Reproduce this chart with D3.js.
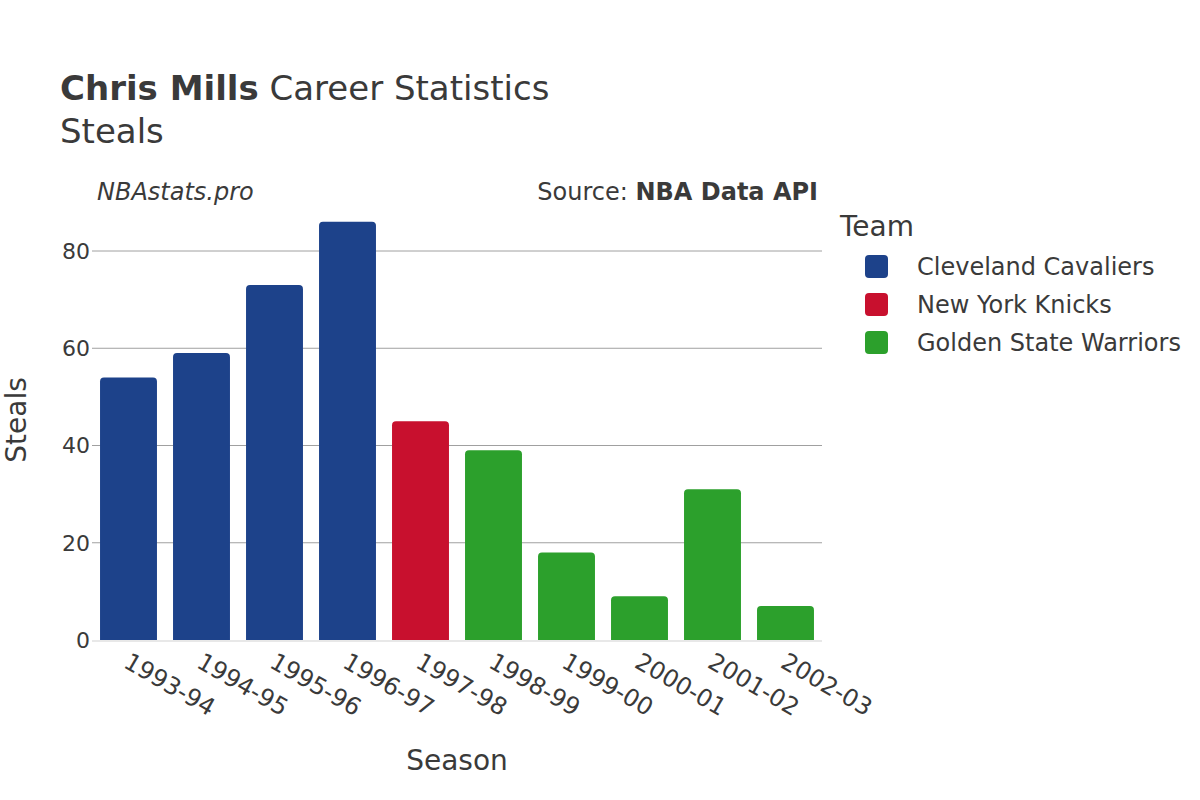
<!DOCTYPE html>
<html><head><meta charset="utf-8">
<script src="https://cdn.jsdelivr.net/npm/d3@7"></script>
<style>body{margin:0;background:#fff;} text{font-family:"DejaVu Sans",sans-serif;fill:#3a3a3a;}</style>
</head><body>
<svg id="c" width="1200" height="800"></svg>
<script>
const seasons = ["1993-94","1994-95","1995-96","1996-97","1997-98","1998-99","1999-00","2000-01","2001-02","2002-03"];
const steals = [54,59,73,86,45,39,18,9,31,7];
const teams = ["CLE","CLE","CLE","CLE","NYK","GSW","GSW","GSW","GSW","GSW"];
const teamCodes = ["CLE","NYK","GSW"];
const teamNames = ["Cleveland Cavaliers","New York Knicks","Golden State Warriors"];
const teamColors = ["#1d428a","#c8102e","#2ca02c"];
const yTicks = [0,20,40,60,80];

const svg = d3.select("#c");
const m = {left:92, right:822, top:210, bottom:640};
const x = d3.scaleBand().domain(seasons).range([m.left,m.right]).paddingInner(0.22).paddingOuter(0.11);
const y = d3.scaleLinear().domain([0,80]).range([m.bottom,251]);
const color = d3.scaleOrdinal().domain(teamCodes).range(teamColors);

// grid
svg.append("g").selectAll("line").data(yTicks.filter(d=>d>0)).join("line")
  .attr("x1",m.left).attr("x2",m.right).attr("y1",d=>y(d)).attr("y2",d=>y(d))
  .attr("stroke","#a0a0a0").attr("stroke-width",1);

// y labels
svg.append("g").selectAll("text").data(yTicks).join("text")
  .attr("x",m.left-2).attr("y",d=>y(d)).attr("dy","0.36em").attr("text-anchor","end")
  .style("font-size","22px").text(d=>d);

// bars with rounded top
const r = 4;
svg.append("g").selectAll("path").data(seasons).join("path")
  .attr("fill",(d,i)=>color(teams[i]))
  .attr("d",(d,i)=>{
    const x0 = x(d), w = x.bandwidth(), yt = y(steals[i]), yb = y(0);
    return `M${x0},${yb}V${yt+r}Q${x0},${yt} ${x0+r},${yt}H${x0+w-r}Q${x0+w},${yt} ${x0+w},${yt+r}V${yb}Z`;
  });

// zero line
svg.append("line").attr("x1",m.left).attr("x2",m.right).attr("y1",y(0)+1).attr("y2",y(0)+1)
  .attr("stroke","#e8e8e8").attr("stroke-width",2);

// x labels
svg.append("g").selectAll("text").data(seasons).join("text")
  .attr("transform",d=>`translate(${x(d)+x.bandwidth()/2-2},${659}) rotate(30)`)
  .attr("text-anchor","start").attr("dy","0.36em")
  .style("font-size","24px").text(d=>d);

// axis titles
svg.append("text").attr("x",457).attr("y",770).attr("text-anchor","middle").style("font-size","28px").text("Season");
svg.append("text").attr("transform","translate(26,420) rotate(-90)").attr("text-anchor","middle").style("font-size","28px").text("Steals");

// titles
const t = svg.append("text").attr("x",60).attr("y",100).style("font-size","34px");
t.append("tspan").style("font-weight","bold").text("Chris Mills");
t.append("tspan").text(" Career Statistics");
svg.append("text").attr("x",60).attr("y",143).style("font-size","34px").text("Steals");
svg.append("text").attr("x",97).attr("y",200).style("font-size","24px").style("font-style","italic").text("NBAstats.pro");
const s = svg.append("text").attr("x",818).attr("y",200).attr("text-anchor","end").style("font-size","24px");
s.append("tspan").text("Source: ");
s.append("tspan").style("font-weight","bold").text("NBA Data API");

// legend
svg.append("text").attr("x",840).attr("y",236).style("font-size","28px").text("Team");
const lg = svg.append("g").selectAll("g").data(teamCodes).join("g")
  .attr("transform",(d,i)=>`translate(865,${266+i*38})`);
lg.append("rect").attr("x",0).attr("y",-11).attr("width",23).attr("height",23).attr("rx",4).attr("fill",d=>color(d));
lg.append("text").attr("x",52).attr("y",0).attr("dy","0.36em").style("font-size","24px").text((d,i)=>teamNames[i]);
</script>
</body></html>
